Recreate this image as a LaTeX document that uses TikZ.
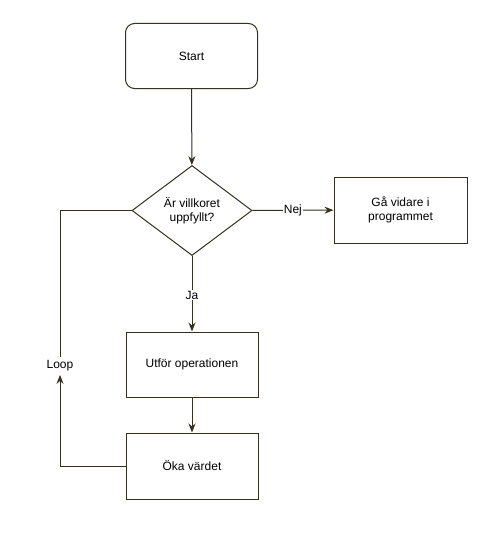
\documentclass[tikz,border=0pt]{standalone}
\usepackage{fontspec}
\setmainfont{Liberation Sans}
\usetikzlibrary{shapes.geometric,arrows.meta}
\definecolor{strk}{RGB}{51,48,30}
\begin{document}
\begin{tikzpicture}[x=1pt,y=-1pt,
  every node/.style={font=\fontsize{12}{14}\selectfont, text=black},
  box/.style={draw=strk, line width=1pt, minimum width=132pt, minimum height=65pt, inner sep=0pt, align=center},
  rbox/.style={box, rounded corners=9pt},
  dia/.style={draw=strk, line width=1pt, diamond, minimum width=120pt, minimum height=90pt, inner sep=0pt, align=center, aspect=1.33},
  conn/.style={draw=strk, line width=1pt},
  arr/.style={conn, -{Stealth[length=9pt,width=7pt]}},
  lbl/.style={fill=white, inner sep=1pt}
]
\useasboundingbox (0,0) rectangle (500,535);
\node[rbox] (start) at (191.5,56) {Start};
\node[draw=strk, line width=1pt, shape=diamond, inner sep=0pt, minimum width=120pt, minimum height=90pt, aspect=1.33, align=center] (cond) at (192,210.5) {};
\node[align=center] at (cond.center) {Är villkoret\\uppfyllt?};
\node[box, minimum width=133pt, minimum height=66pt] (next) at (400.5,210) {Gå vidare i\\programmet};
\node[box] (op) at (192,364.5) {Utför operationen};
\node[box, minimum height=66pt] (inc) at (192,466) {Öka värdet};
\node (loop) at (60,366) {Loop};
\coordinate (bl) at (60,466);
\coordinate (tl) at (60,210.5);
\draw[arr] (start) -- (cond);
\draw[arr] (cond) -- node[lbl] {Nej} (next);
\draw[arr] (cond.south) -- node[lbl, pos=0.52] {Ja} (op.north);
\draw[arr] (op) -- (inc);
\draw[arr] (inc.west) -- (bl) -- (loop.south);
\draw[conn] (loop.north) -- (tl) -- (cond.west);
\end{tikzpicture}
\end{document}
